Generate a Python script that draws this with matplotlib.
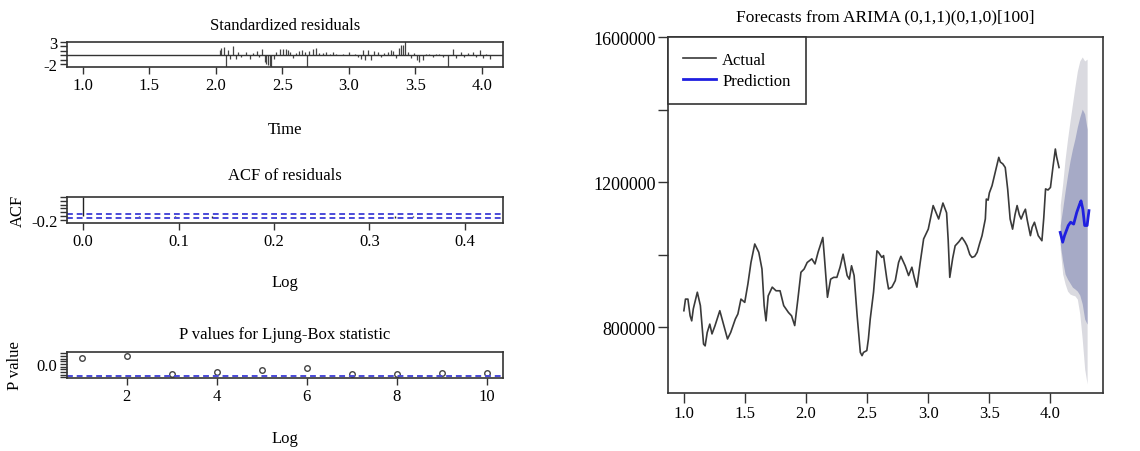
import matplotlib
matplotlib.use("Agg")
import matplotlib.pyplot as plt

plt.rcParams['font.family'] = ['Liberation Serif', 'DejaVu Serif']
plt.rcParams['font.size'] = 12

# standardized residuals (time, value)
res_t = [2.028, 2.040, 2.058, 2.073, 2.090, 2.103, 2.128, 2.148, 2.165, 2.190,
         2.228, 2.253, 2.278, 2.308, 2.328, 2.348, 2.366, 2.378, 2.391, 2.404,
         2.416, 2.434, 2.454, 2.479, 2.504, 2.524, 2.541, 2.559, 2.579, 2.599,
         2.629, 2.649, 2.667, 2.684, 2.704, 2.729, 2.754, 2.779, 2.805, 2.830,
         2.855, 2.880, 2.905, 2.930, 2.955, 3.005, 3.043, 3.068, 3.093, 3.105,
         3.125, 3.143, 3.168, 3.193, 3.218, 3.243, 3.268, 3.293, 3.318, 3.336,
         3.356, 3.376, 3.393, 3.406, 3.424, 3.444, 3.469, 3.494, 3.511, 3.531,
         3.556, 3.581, 3.607, 3.632, 3.657, 3.682, 3.707, 3.749, 3.782, 3.807,
         3.845, 3.870, 3.895, 3.932, 3.957, 3.987, 4.012, 4.033, 4.063]
res_v = [1.14, 1.67, 1.89, -2.8, 1.14, -0.91, 2.05, -0.76, 0.76, -0.38,
         0.76, -0.76, 0.61, 0.91, -0.45, 1.36, -1.52, -1.89, -2.12, -2.27,
         -2.8, -0.91, 0.76, 1.36, 1.52, 1.36, 1.14, 0.76, -0.61, 0.61,
         0.91, 1.14, 0.76, -2.8, 0.91, 1.52, 1.67, 0.61, 0.61, 0.76,
         0.38, 0.76, 0.38, 0.15, 0.38, 0.76, 0.38, -0.38, -0.76, 1.14,
         -1.14, 1.14, -1.14, 0.91, 0.76, -0.38, 0.61, 0.76, 1.14, 0.91,
         -0.61, 1.67, 2.27, 2.42, 3.2, 0.76, -0.61, 0.61, -1.14, -1.52,
         -1.14, 0.38, 0.38, -0.38, 0.38, 0.38, -0.38, -2.8, 1.36, -0.61,
         0.76, -0.38, 0.61, 0.76, -0.45, 1.14, -0.61, 0.38, -0.76]

# ACF of residuals
acf_lag = [0.0, 0.058, 0.077, 0.096, 0.135, 0.154, 0.212, 0.308, 0.327, 0.346, 0.385]
acf_val = [1.0, -0.05, 0.03, -0.03, -0.08, 0.02, 0.02, 0.03, -0.08, -0.04, 0.02]
acf_bound = 0.12

# Ljung-Box p values
lb_lag = [1, 2, 3, 4, 5, 6, 7, 8, 9, 10]
lb_p = [0.22, 0.31, -0.36, -0.30, -0.22, -0.15, -0.37, -0.38, -0.34, -0.34]
lb_line = -0.44

# actual series
act_t = [1.000, 1.013, 1.033, 1.051, 1.064, 1.077, 1.110, 1.135, 1.161, 1.174,
         1.191, 1.212, 1.230, 1.255, 1.294, 1.320, 1.357, 1.383, 1.421, 1.442,
         1.467, 1.498, 1.524, 1.549, 1.580, 1.613, 1.639, 1.657, 1.672, 1.690,
         1.723, 1.754, 1.787, 1.817, 1.856, 1.881, 1.907, 1.933, 1.958, 1.984,
         2.009, 2.047, 2.073, 2.098, 2.137, 2.149, 2.175, 2.201, 2.226, 2.252,
         2.278, 2.303, 2.336, 2.354, 2.372, 2.393, 2.418, 2.444, 2.458, 2.470,
         2.497, 2.510, 2.525, 2.552, 2.580, 2.593, 2.620, 2.634, 2.661, 2.675,
         2.702, 2.730, 2.757, 2.776, 2.811, 2.839, 2.866, 2.885, 2.907, 2.934,
         2.962, 3.000, 3.040, 3.085, 3.120, 3.150, 3.163, 3.176, 3.200, 3.220,
         3.250, 3.276, 3.300, 3.317, 3.340, 3.358, 3.380, 3.400, 3.420, 3.440,
         3.467, 3.475, 3.490, 3.500, 3.522, 3.550, 3.577, 3.590, 3.610, 3.630,
         3.650, 3.670, 3.690, 3.710, 3.727, 3.745, 3.760, 3.780, 3.795, 3.810,
         3.836, 3.850, 3.869, 3.885, 3.900, 3.930, 3.945, 3.960, 3.980, 4.000,
         4.020, 4.040, 4.050, 4.070]
act_v = [845000, 877000, 877000, 831000, 817000, 850000, 896000, 859000, 753000, 748000,
         785000, 808000, 781000, 804000, 845000, 813000, 767000, 785000, 822000, 836000,
         877000, 868000, 919000, 978000, 1029000, 1006000, 960000, 859000, 817000, 886000,
         910000, 900000, 900000, 859000, 840000, 831000, 804000, 877000, 951000, 960000,
         978000, 988000, 974000, 1006000, 1047000, 997000, 882000, 932000, 937000, 937000,
         965000, 1001000, 942000, 932000, 969000, 942000, 831000, 730000, 721000, 730000,
         735000, 767000, 822000, 896000, 1010000, 1006000, 992000, 997000, 932000, 905000,
         910000, 928000, 978000, 995000, 969000, 942000, 965000, 937000, 910000, 978000,
         1043000, 1070000, 1135000, 1098000, 1142000, 1115000, 1040000, 937000, 990000, 1024000,
         1035000, 1047000, 1035000, 1024000, 1000000, 992000, 995000, 1006000, 1030000, 1052000,
         1098000, 1153000, 1150000, 1170000, 1190000, 1230000, 1268000, 1255000, 1250000, 1240000,
         1180000, 1098000, 1070000, 1110000, 1135000, 1110000, 1098000, 1115000, 1125000, 1095000,
         1052000, 1075000, 1089000, 1070000, 1052000, 1038000, 1100000, 1181000, 1178000, 1185000,
         1240000, 1291000, 1270000, 1240000]

# forecast
pred_t = [4.080, 4.100, 4.115, 4.146, 4.165, 4.190, 4.215, 4.240, 4.250, 4.265, 4.280, 4.300, 4.315]
pred_v = [1061000, 1034000, 1052000, 1080000, 1089000, 1084000, 1116000, 1140000, 1148000, 1125000, 1080000, 1080000, 1121000]
band_t = [4.08, 4.10, 4.12, 4.14, 4.16, 4.18, 4.20, 4.22, 4.24, 4.26, 4.28, 4.30]
hi95 = [1137000, 1195000, 1264000, 1319000, 1368000, 1415000, 1462000, 1506000, 1534000, 1545000, 1534000, 1539000]
hi80 = [1081000, 1126000, 1175000, 1219000, 1258000, 1291000, 1319000, 1352000, 1379000, 1401000, 1388000, 1346000]
lo80 = [1029000, 982000, 946000, 932000, 921000, 910000, 905000, 899000, 888000, 864000, 822000, 808000]
lo95 = [1015000, 946000, 919000, 899000, 891000, 888000, 886000, 877000, 836000, 767000, 684000, 643000]

W, H = 1140, 452
fig = plt.figure(figsize=(W / 100, H / 100), dpi=100)

def box(x0, y0, x1, y1):
    return fig.add_axes([x0 / W, 1 - y1 / H, (x1 - x0) / W, (y1 - y0) / H])

def frame(ax):
    for s in ax.spines.values():
        s.set_color('#333333')
        s.set_linewidth(1.2)
    ax.tick_params(direction='out', length=5, width=1.0, color='#333333', pad=2)

# panel 1: standardized residuals
ax1 = box(67, 43, 503, 68)
frame(ax1)
ax1.vlines(res_t, 0, res_v, color='#444444', lw=0.9)
ax1.axhline(0, color='#333333', lw=1.0)
ax1.set_xlim(0.88, 4.16)
ax1.set_ylim(-2.6, 3.0)
ax1.set_xticks([1.0, 1.5, 2.0, 2.5, 3.0, 3.5, 4.0])
ax1.set_xticklabels(['1.0', '1.5', '2.0', '2.5', '3.0', '3.5', '4.0'])
ax1.set_yticks([-2, -1, 0, 1, 2, 3])
ax1.set_yticklabels(['-2', '', '', '', '', '3'])
ax1.set_title('Standardized residuals', fontsize=12, pad=9)
ax1.set_xlabel('Time', labelpad=20)

# panel 2: ACF
ax2 = box(67, 198, 503, 224)
frame(ax2)
ax2.vlines(acf_lag, 0, acf_val, color='#222222', lw=1.0)
ax2.axhline(acf_bound, color='#4a4ad8', lw=1.4, ls=(0, (3, 2)))
ax2.axhline(-acf_bound, color='#4a4ad8', lw=1.4, ls=(0, (3, 2)))
ax2.set_xlim(-0.017, 0.44)
ax2.set_ylim(-0.36, 1.0)
ax2.set_xticks([0.0, 0.1, 0.2, 0.3, 0.4])
ax2.set_xticklabels(['0.0', '0.1', '0.2', '0.3', '0.4'])
ax2.set_yticks([-0.2, 0.0, 0.2, 0.4, 0.6, 0.8, 1.0])
ax2.set_yticklabels(['-0.2', '', '', '', '', '', ''])
ax2.set_title('ACF of residuals', fontsize=12, pad=13)
ax2.set_xlabel('Log', labelpad=18)
ax2.set_ylabel('ACF', labelpad=4)

# panel 3: Ljung-Box p values
ax3 = box(67, 353, 503, 379)
frame(ax3)
ax3.plot(lb_lag, lb_p, 'o', mfc='none', mec='#444444', ms=4, mew=1.0)
ax3.axhline(lb_line, color='#4a4ad8', lw=1.4, ls=(0, (3, 2)))
ax3.set_xlim(0.67, 10.36)
ax3.set_ylim(-0.52, 0.44)
ax3.set_xticks([2, 4, 6, 8, 10])
ax3.set_yticks([-0.5, -0.4, -0.3, -0.2, -0.1, 0.0, 0.1, 0.2, 0.3, 0.4])
ax3.set_yticklabels(['', '', '', '', '', '0.0', '', '', '', ''])
ax3.set_title('P values for Ljung-Box statistic', fontsize=12, pad=10)
ax3.set_xlabel('Log', labelpad=19)
ax3.set_ylabel('P value', labelpad=10)

# right: forecast
ax4 = box(668, 38, 1103, 394)
frame(ax4)
ax4.tick_params(length=7)
ax4.tick_params(axis='y', labelsize=13)
ax4.fill_between(band_t, lo95, hi95, color='#dadae0', lw=0)
ax4.fill_between(band_t, lo80, hi80, color='#a6aac6', lw=0)
ax4.plot(act_t, act_v, color='#3a3a3a', lw=1.2, label='Actual')
ax4.plot(pred_t, pred_v, color='#1f1fe0', lw=2.0, label='Prediction')
ax4.set_xlim(0.87, 4.43)
ax4.set_ylim(618000, 1600000)
ax4.set_xticks([1.0, 1.5, 2.0, 2.5, 3.0, 3.5, 4.0])
ax4.set_xticklabels(['1.0', '1.5', '2.0', '2.5', '3.0', '3.5', '4.0'])
ax4.set_yticks([800000, 1000000, 1200000, 1400000, 1600000])
ax4.set_yticklabels(['800000', '', '1200000', '', '1600000'])
ax4.set_title('Forecasts from ARIMA (0,1,1)(0,1,0)[100]', fontsize=12.5, pad=12)
leg = ax4.legend(loc='upper left', fancybox=False, framealpha=1, edgecolor='#333333',
                 borderaxespad=0, handlelength=2.0, handletextpad=0.35,
                 labelspacing=0.3, fontsize=12, borderpad=0.9)
leg.get_frame().set_linewidth(1.2)

fig.savefig('out.png', dpi=100)
